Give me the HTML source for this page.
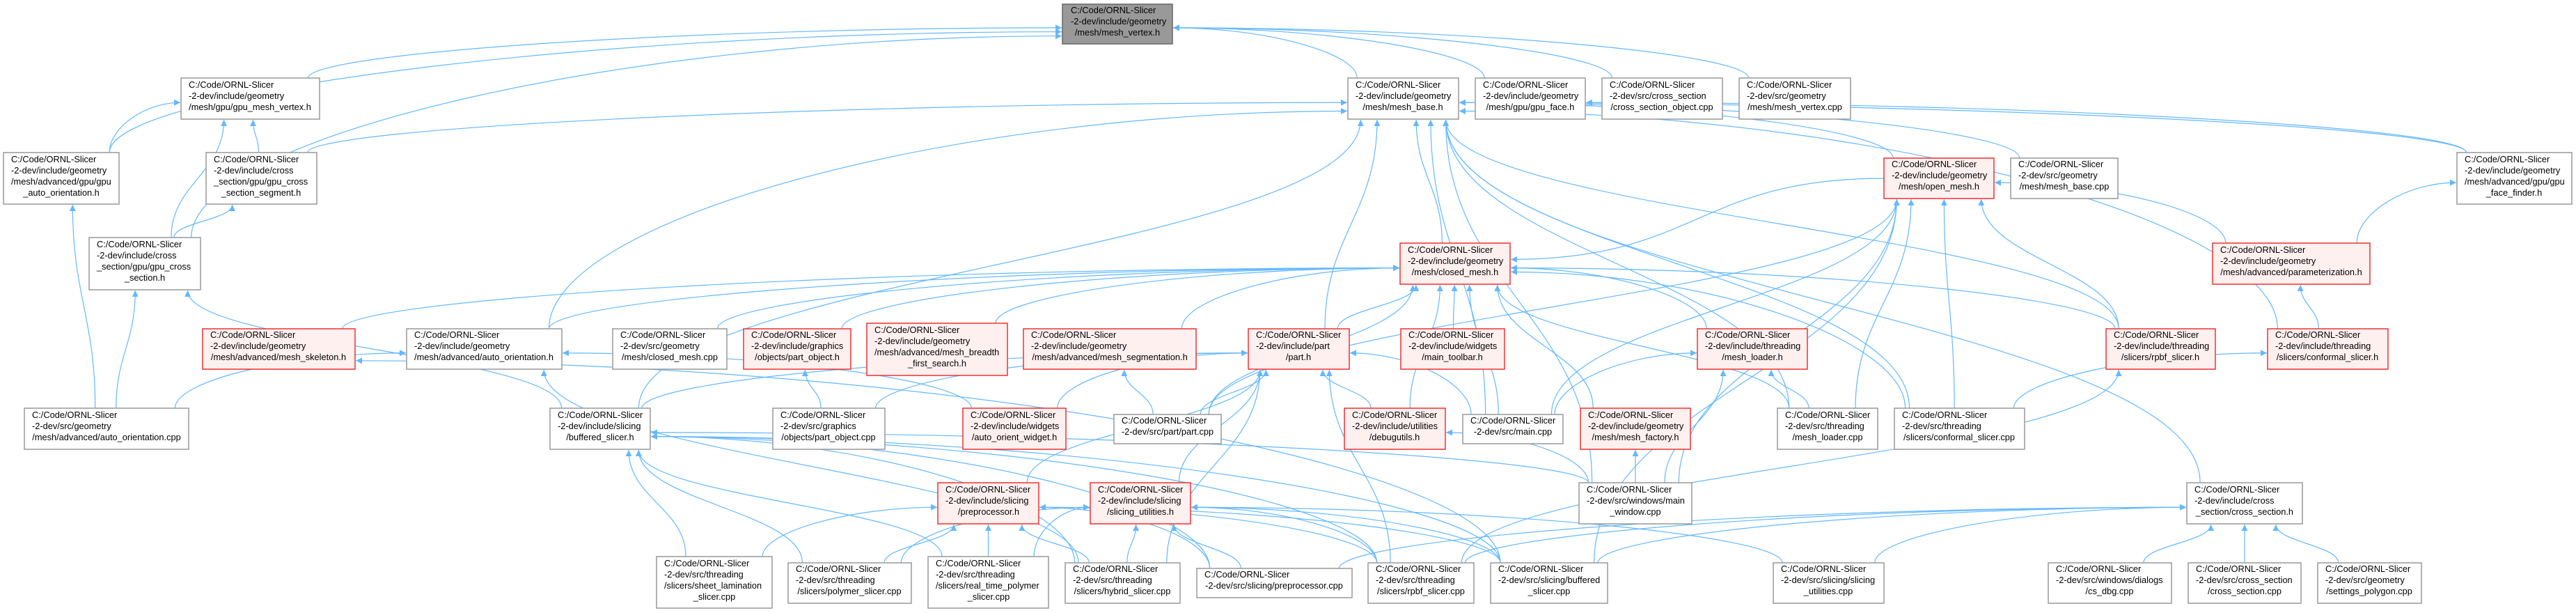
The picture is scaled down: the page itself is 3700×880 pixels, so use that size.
<!DOCTYPE html>
<html><head><meta charset="utf-8">
<style>
html,body{margin:0;padding:0;background:#fff;}
svg{display:block;}
text{font-family:"Liberation Sans",Arial,sans-serif;font-size:12.8px;fill:#000;}
.n rect{fill:#fff;stroke:#999;stroke-width:1.5;}
.r rect{fill:#fff0f0;stroke:#f03030;stroke-width:1.5;}
.g rect{fill:#999;stroke:#666;stroke-width:1.5;}
#edges path{fill:none;stroke:#63b8ff;stroke-width:1.2;}
</style></head>
<body>
<svg id="s" width="3700" height="880" viewBox="0 0 3700 880" xmlns="http://www.w3.org/2000/svg">
<defs><marker id="ah" viewBox="0 0 10 10" refX="10" refY="5" markerWidth="11" markerHeight="9" markerUnits="userSpaceOnUse" orient="auto"><path d="M0,0 L10,5 L0,10 z" fill="#63b8ff"/></marker></defs>
<g id="edges"></g>
<g id="nodes">
<g class="g" id="root"><rect x="1526" y="6" width="158" height="57"/><text x="1538" y="19">C:/Code/ORNL-Slicer</text><text x="1538" y="35">-2-dev/include/geometry</text><text x="1605" y="51" text-anchor="middle">/mesh/mesh_vertex.h</text></g>
<g class="n" id="gmv"><rect x="260" y="112" width="199" height="59"/><text x="271" y="126">C:/Code/ORNL-Slicer</text><text x="271" y="142">-2-dev/include/geometry</text><text x="359" y="158" text-anchor="middle">/mesh/gpu/gpu_mesh_vertex.h</text></g>
<g class="n" id="gao"><rect x="5" y="219" width="166" height="74"/><text x="16" y="233">C:/Code/ORNL-Slicer</text><text x="16" y="249">-2-dev/include/geometry</text><text x="16" y="265">/mesh/advanced/gpu/gpu</text><text x="88" y="281" text-anchor="middle">_auto_orientation.h</text></g>
<g class="n" id="gcss"><rect x="296" y="219" width="159" height="74"/><text x="307" y="233">C:/Code/ORNL-Slicer</text><text x="307" y="249">-2-dev/include/cross</text><text x="307" y="265">_section/gpu/gpu_cross</text><text x="375" y="281" text-anchor="middle">_section_segment.h</text></g>
<g class="n" id="gcs"><rect x="128" y="341" width="160" height="75"/><text x="139" y="355">C:/Code/ORNL-Slicer</text><text x="139" y="371">-2-dev/include/cross</text><text x="139" y="387">_section/gpu/gpu_cross</text><text x="208" y="403" text-anchor="middle">_section.h</text></g>
<g class="r" id="msk"><rect x="291" y="472" width="219" height="58"/><text x="302" y="485">C:/Code/ORNL-Slicer</text><text x="302" y="501">-2-dev/include/geometry</text><text x="400" y="517" text-anchor="middle">/mesh/advanced/mesh_skeleton.h</text></g>
<g class="n" id="aocpp"><rect x="35" y="586" width="236" height="59"/><text x="46" y="600">C:/Code/ORNL-Slicer</text><text x="46" y="616">-2-dev/src/geometry</text><text x="153" y="632" text-anchor="middle">/mesh/advanced/auto_orientation.cpp</text></g>
<g class="n" id="aoh"><rect x="584" y="472" width="223" height="58"/><text x="595" y="485">C:/Code/ORNL-Slicer</text><text x="595" y="501">-2-dev/include/geometry</text><text x="695" y="517" text-anchor="middle">/mesh/advanced/auto_orientation.h</text></g>
<g class="n" id="cmcpp"><rect x="880" y="472" width="164" height="58"/><text x="891" y="485">C:/Code/ORNL-Slicer</text><text x="891" y="501">-2-dev/src/geometry</text><text x="962" y="517" text-anchor="middle">/mesh/closed_mesh.cpp</text></g>
<g class="r" id="poh"><rect x="1068" y="472" width="154" height="58"/><text x="1079" y="485">C:/Code/ORNL-Slicer</text><text x="1079" y="501">-2-dev/include/graphics</text><text x="1145" y="517" text-anchor="middle">/objects/part_object.h</text></g>
<g class="n" id="bsh"><rect x="790" y="586" width="144" height="59"/><text x="801" y="600">C:/Code/ORNL-Slicer</text><text x="801" y="616">-2-dev/include/slicing</text><text x="862" y="632" text-anchor="middle">/buffered_slicer.h</text></g>
<g class="n" id="pocpp"><rect x="1110" y="586" width="161" height="59"/><text x="1121" y="600">C:/Code/ORNL-Slicer</text><text x="1121" y="616">-2-dev/src/graphics</text><text x="1190" y="632" text-anchor="middle">/objects/part_object.cpp</text></g>
<g class="n" id="sheet"><rect x="943" y="799" width="166" height="74"/><text x="954" y="813">C:/Code/ORNL-Slicer</text><text x="954" y="829">-2-dev/src/threading</text><text x="954" y="845">/slicers/sheet_lamination</text><text x="1026" y="861" text-anchor="middle">_slicer.cpp</text></g>
<g class="n" id="poly"><rect x="1132" y="808" width="177" height="58"/><text x="1143" y="821">C:/Code/ORNL-Slicer</text><text x="1143" y="837">-2-dev/src/threading</text><text x="1220" y="853" text-anchor="middle">/slicers/polymer_slicer.cpp</text></g>
<g class="r" id="bfs"><rect x="1245" y="464" width="202" height="75"/><text x="1256" y="478">C:/Code/ORNL-Slicer</text><text x="1256" y="494">-2-dev/include/geometry</text><text x="1256" y="510">/mesh/advanced/mesh_breadth</text><text x="1346" y="526" text-anchor="middle">_first_search.h</text></g>
<g class="r" id="seg"><rect x="1470" y="472" width="248" height="58"/><text x="1481" y="485">C:/Code/ORNL-Slicer</text><text x="1481" y="501">-2-dev/include/geometry</text><text x="1594" y="517" text-anchor="middle">/mesh/advanced/mesh_segmentation.h</text></g>
<g class="r" id="parth"><rect x="1793" y="472" width="145" height="58"/><text x="1804" y="485">C:/Code/ORNL-Slicer</text><text x="1804" y="501">-2-dev/include/part</text><text x="1865" y="517" text-anchor="middle">/part.h</text></g>
<g class="r" id="aow"><rect x="1383" y="586" width="148" height="59"/><text x="1394" y="600">C:/Code/ORNL-Slicer</text><text x="1394" y="616">-2-dev/include/widgets</text><text x="1457" y="632" text-anchor="middle">/auto_orient_widget.h</text></g>
<g class="n" id="partcpp"><rect x="1600" y="595" width="154" height="42"/><text x="1611" y="608">C:/Code/ORNL-Slicer</text><text x="1677" y="624" text-anchor="middle">-2-dev/src/part/part.cpp</text></g>
<g class="r" id="pph"><rect x="1347" y="693" width="145" height="59"/><text x="1358" y="707">C:/Code/ORNL-Slicer</text><text x="1358" y="723">-2-dev/include/slicing</text><text x="1420" y="739" text-anchor="middle">/preprocessor.h</text></g>
<g class="r" id="suh"><rect x="1566" y="693" width="144" height="59"/><text x="1577" y="707">C:/Code/ORNL-Slicer</text><text x="1577" y="723">-2-dev/include/slicing</text><text x="1638" y="739" text-anchor="middle">/slicing_utilities.h</text></g>
<g class="n" id="rtp"><rect x="1333" y="799" width="173" height="74"/><text x="1344" y="813">C:/Code/ORNL-Slicer</text><text x="1344" y="829">-2-dev/src/threading</text><text x="1344" y="845">/slicers/real_time_polymer</text><text x="1420" y="861" text-anchor="middle">_slicer.cpp</text></g>
<g class="n" id="hyb"><rect x="1530" y="808" width="165" height="58"/><text x="1541" y="821">C:/Code/ORNL-Slicer</text><text x="1541" y="837">-2-dev/src/threading</text><text x="1612" y="853" text-anchor="middle">/slicers/hybrid_slicer.cpp</text></g>
<g class="n" id="ppcpp"><rect x="1719" y="816" width="223" height="42"/><text x="1730" y="829">C:/Code/ORNL-Slicer</text><text x="1830" y="845" text-anchor="middle">-2-dev/src/slicing/preprocessor.cpp</text></g>
<g class="n" id="mbh"><rect x="1936" y="112" width="159" height="59"/><text x="1947" y="126">C:/Code/ORNL-Slicer</text><text x="1947" y="142">-2-dev/include/geometry</text><text x="2015" y="158" text-anchor="middle">/mesh/mesh_base.h</text></g>
<g class="n" id="gfh"><rect x="2119" y="112" width="158" height="59"/><text x="2130" y="126">C:/Code/ORNL-Slicer</text><text x="2130" y="142">-2-dev/include/geometry</text><text x="2198" y="158" text-anchor="middle">/mesh/gpu/gpu_face.h</text></g>
<g class="n" id="csocpp"><rect x="2301" y="112" width="173" height="59"/><text x="2312" y="126">C:/Code/ORNL-Slicer</text><text x="2312" y="142">-2-dev/src/cross_section</text><text x="2387" y="158" text-anchor="middle">/cross_section_object.cpp</text></g>
<g class="n" id="mvcpp"><rect x="2498" y="112" width="160" height="59"/><text x="2509" y="126">C:/Code/ORNL-Slicer</text><text x="2509" y="142">-2-dev/src/geometry</text><text x="2578" y="158" text-anchor="middle">/mesh/mesh_vertex.cpp</text></g>
<g class="r" id="cmh"><rect x="2011" y="349" width="158" height="59"/><text x="2022" y="363">C:/Code/ORNL-Slicer</text><text x="2022" y="379">-2-dev/include/geometry</text><text x="2090" y="395" text-anchor="middle">/mesh/closed_mesh.h</text></g>
<g class="r" id="mtb"><rect x="2012" y="472" width="149" height="58"/><text x="2023" y="485">C:/Code/ORNL-Slicer</text><text x="2023" y="501">-2-dev/include/widgets</text><text x="2086" y="517" text-anchor="middle">/main_toolbar.h</text></g>
<g class="r" id="dbg"><rect x="1931" y="586" width="145" height="59"/><text x="1942" y="600">C:/Code/ORNL-Slicer</text><text x="1942" y="616">-2-dev/include/utilities</text><text x="2003" y="632" text-anchor="middle">/debugutils.h</text></g>
<g class="n" id="maincpp"><rect x="2101" y="595" width="144" height="42"/><text x="2112" y="608">C:/Code/ORNL-Slicer</text><text x="2173" y="624" text-anchor="middle">-2-dev/src/main.cpp</text></g>
<g class="r" id="mfh"><rect x="2270" y="586" width="158" height="59"/><text x="2281" y="600">C:/Code/ORNL-Slicer</text><text x="2281" y="616">-2-dev/include/geometry</text><text x="2349" y="632" text-anchor="middle">/mesh/mesh_factory.h</text></g>
<g class="n" id="mwcpp"><rect x="2268" y="693" width="162" height="59"/><text x="2279" y="707">C:/Code/ORNL-Slicer</text><text x="2279" y="723">-2-dev/src/windows/main</text><text x="2349" y="739" text-anchor="middle">_window.cpp</text></g>
<g class="n" id="rpbfcpp"><rect x="1965" y="808" width="152" height="58"/><text x="1976" y="821">C:/Code/ORNL-Slicer</text><text x="1976" y="837">-2-dev/src/threading</text><text x="2041" y="853" text-anchor="middle">/slicers/rpbf_slicer.cpp</text></g>
<g class="n" id="bfcpp"><rect x="2141" y="808" width="168" height="58"/><text x="2152" y="821">C:/Code/ORNL-Slicer</text><text x="2152" y="837">-2-dev/src/slicing/buffered</text><text x="2225" y="853" text-anchor="middle">_slicer.cpp</text></g>
<g class="r" id="mlh"><rect x="2438" y="472" width="158" height="58"/><text x="2449" y="485">C:/Code/ORNL-Slicer</text><text x="2449" y="501">-2-dev/include/threading</text><text x="2517" y="517" text-anchor="middle">/mesh_loader.h</text></g>
<g class="r" id="omh"><rect x="2706" y="227" width="158" height="58"/><text x="2717" y="240">C:/Code/ORNL-Slicer</text><text x="2717" y="256">-2-dev/include/geometry</text><text x="2785" y="272" text-anchor="middle">/mesh/open_mesh.h</text></g>
<g class="n" id="mbcpp"><rect x="2888" y="227" width="154" height="58"/><text x="2899" y="240">C:/Code/ORNL-Slicer</text><text x="2899" y="256">-2-dev/src/geometry</text><text x="2965" y="272" text-anchor="middle">/mesh/mesh_base.cpp</text></g>
<g class="n" id="mlcpp"><rect x="2553" y="586" width="144" height="59"/><text x="2564" y="600">C:/Code/ORNL-Slicer</text><text x="2564" y="616">-2-dev/src/threading</text><text x="2625" y="632" text-anchor="middle">/mesh_loader.cpp</text></g>
<g class="n" id="cfcpp"><rect x="2721" y="586" width="187" height="59"/><text x="2732" y="600">C:/Code/ORNL-Slicer</text><text x="2732" y="616">-2-dev/src/threading</text><text x="2814" y="632" text-anchor="middle">/slicers/conformal_slicer.cpp</text></g>
<g class="r" id="rpbfh"><rect x="3025" y="472" width="157" height="58"/><text x="3036" y="485">C:/Code/ORNL-Slicer</text><text x="3036" y="501">-2-dev/include/threading</text><text x="3103" y="517" text-anchor="middle">/slicers/rpbf_slicer.h</text></g>
<g class="n" id="sucpp"><rect x="2547" y="808" width="159" height="58"/><text x="2558" y="821">C:/Code/ORNL-Slicer</text><text x="2558" y="837">-2-dev/src/slicing/slicing</text><text x="2626" y="853" text-anchor="middle">_utilities.cpp</text></g>
<g class="n" id="csdbg"><rect x="2942" y="808" width="177" height="58"/><text x="2953" y="821">C:/Code/ORNL-Slicer</text><text x="2953" y="837">-2-dev/src/windows/dialogs</text><text x="3030" y="853" text-anchor="middle">/cs_dbg.cpp</text></g>
<g class="n" id="gff"><rect x="3529" y="219" width="165" height="74"/><text x="3540" y="233">C:/Code/ORNL-Slicer</text><text x="3540" y="249">-2-dev/include/geometry</text><text x="3540" y="265">/mesh/advanced/gpu/gpu</text><text x="3611" y="281" text-anchor="middle">_face_finder.h</text></g>
<g class="r" id="param"><rect x="3178" y="349" width="226" height="59"/><text x="3189" y="363">C:/Code/ORNL-Slicer</text><text x="3189" y="379">-2-dev/include/geometry</text><text x="3291" y="395" text-anchor="middle">/mesh/advanced/parameterization.h</text></g>
<g class="r" id="cfh"><rect x="3257" y="472" width="173" height="58"/><text x="3268" y="485">C:/Code/ORNL-Slicer</text><text x="3268" y="501">-2-dev/include/threading</text><text x="3343" y="517" text-anchor="middle">/slicers/conformal_slicer.h</text></g>
<g class="n" id="csh"><rect x="3141" y="693" width="166" height="59"/><text x="3152" y="707">C:/Code/ORNL-Slicer</text><text x="3152" y="723">-2-dev/include/cross</text><text x="3224" y="739" text-anchor="middle">_section/cross_section.h</text></g>
<g class="n" id="cscpp"><rect x="3143" y="808" width="162" height="58"/><text x="3154" y="821">C:/Code/ORNL-Slicer</text><text x="3154" y="837">-2-dev/src/cross_section</text><text x="3224" y="853" text-anchor="middle">/cross_section.cpp</text></g>
<g class="n" id="spcpp"><rect x="3329" y="808" width="149" height="58"/><text x="3340" y="821">C:/Code/ORNL-Slicer</text><text x="3340" y="837">-2-dev/src/geometry</text><text x="3403" y="853" text-anchor="middle">/settings_polygon.cpp</text></g>
</g>
</svg>
<script>
(function(){
var E=[
["gmv","root"],["gao","root"],["gcs","root"],["mbh","root"],["gfh","root"],["csocpp","root"],["mvcpp","root"],
["gao","gmv"],["gcs","gmv"],["gcss","gmv"],["gcs","gcss"],["aocpp","gao"],["aocpp","gcs"],["bsh","gcs"],
["gcss","mbh"],["aoh","mbh"],["bsh","mbh"],["cmh","mbh"],["parth","mbh"],["maincpp","mbh"],["omh","mbh"],["mbcpp","mbh"],
["rpbfh","mbh"],["cfh","mbh"],["gff","mbh"],["csh","mbh"],["mlcpp","mbh"],["cfcpp","mbh"],["mwcpp","mbh"],["gff","gfh"],
["msk","cmh"],["aoh","cmh"],["cmcpp","cmh"],["poh","cmh"],["bfs","cmh"],["seg","cmh"],["parth","cmh"],["mtb","cmh"],["dbg","cmh"],
["maincpp","cmh"],["mfh","cmh"],["mlh","cmh"],["rpbfh","cmh"],["mlcpp","cmh"],["cfcpp","cmh"],["partcpp","cmh"],["omh","cmh"],
["partcpp","omh"],["mlcpp","omh"],["cfcpp","omh"],["mwcpp","omh"],["rpbfh","omh"],["param","omh"],["bfcpp","omh"],["maincpp","omh"],
["partcpp","parth"],["pph","parth"],["suh","parth"],["pocpp","parth"],["bsh","parth"],["aow","parth"],["dbg","parth"],["maincpp","parth"],["rpbfcpp","parth"],["hyb","parth"],
["sheet","pph"],["poly","pph"],["rtp","pph"],["hyb","pph"],["ppcpp","pph"],["rpbfcpp","pph"],["bfcpp","pph"],
["poly","suh"],["rtp","suh"],["hyb","suh"],["ppcpp","suh"],["rpbfcpp","suh"],["bfcpp","suh"],["sucpp","suh"],
["sheet","bsh"],["poly","bsh"],["rtp","bsh"],["hyb","bsh"],["rpbfcpp","bsh"],["bfcpp","bsh"],["ppcpp","bsh"],["mwcpp","bsh"],
["csdbg","csh"],["cscpp","csh"],["spcpp","csh"],["sucpp","csh"],["bfcpp","csh"],["rpbfcpp","csh"],["ppcpp","csh"],
["mwcpp","mfh"],["mwcpp","dbg"],["mlcpp","mlh"],["maincpp","mlh"],["mwcpp","mlh"],["rpbfcpp","rpbfh"],["cfcpp","cfh"],
["cfh","param"],["param","gff"],["partcpp","seg"],["pocpp","poh"],["aocpp","aoh"],["hyb","aoh"],["aow","aoh"],["bfcpp","msk"]
];
function box(id){var r=document.querySelector('#'+id+' rect');var x=+r.getAttribute('x'),y=+r.getAttribute('y'),w=+r.getAttribute('width'),h=+r.getAttribute('height');return {x1:x,y1:y,x2:x+w,y2:y+h,cx:x+w/2,cy:y+h/2,w:w,h:h};}
function cl(v,a,b){return Math.max(a,Math.min(b,v));}
var g=document.getElementById('edges'),out='';
E.forEach(function(e){
 var c=box(e[0]),p=box(e[1]),d;
 var dx=p.cx-c.cx,dy=c.y1-p.y2;
 if(dy>5 && Math.abs(dx)<4*dy){
  var sx=c.cx+cl(dx*0.25,-c.w/2.6,c.w/2.6),sy=c.y1;
  var ex=p.cx+cl(-dx*0.25,-p.w/2.6,p.w/2.6),ey=p.y2+1;
  var k=(sy-ey)*0.45;
  d='M'+sx+','+sy+' C'+sx+','+(sy-k)+' '+ex+','+(ey+k)+' '+ex+','+ey;
 } else {
  var side=dx>0?p.x1-1:p.x2+1;
  var ey2=p.cy+cl((c.cy-p.cy)*0.05,-p.h/3,p.h/3);
  var sx2,sy2;
  if(c.y1>p.y2){sx2=c.cx+cl(dx*0.3,-c.w/2.4,c.w/2.4);sy2=c.y1;}
  else {sx2=dx>0?c.x2:c.x1;sy2=c.cy;}
  var mx=(sx2+side)/2;
  d='M'+sx2+','+sy2+' C'+(sy2===c.y1?sx2:mx)+','+(sy2===c.y1?(sy2+ey2)/2:sy2)+' '+mx+','+ey2+' '+side+','+ey2;
 }
 out+='<path d="'+d+'" marker-end="url(#ah)"/>';
});
g.innerHTML=out;
})();
</script>
</body></html>
